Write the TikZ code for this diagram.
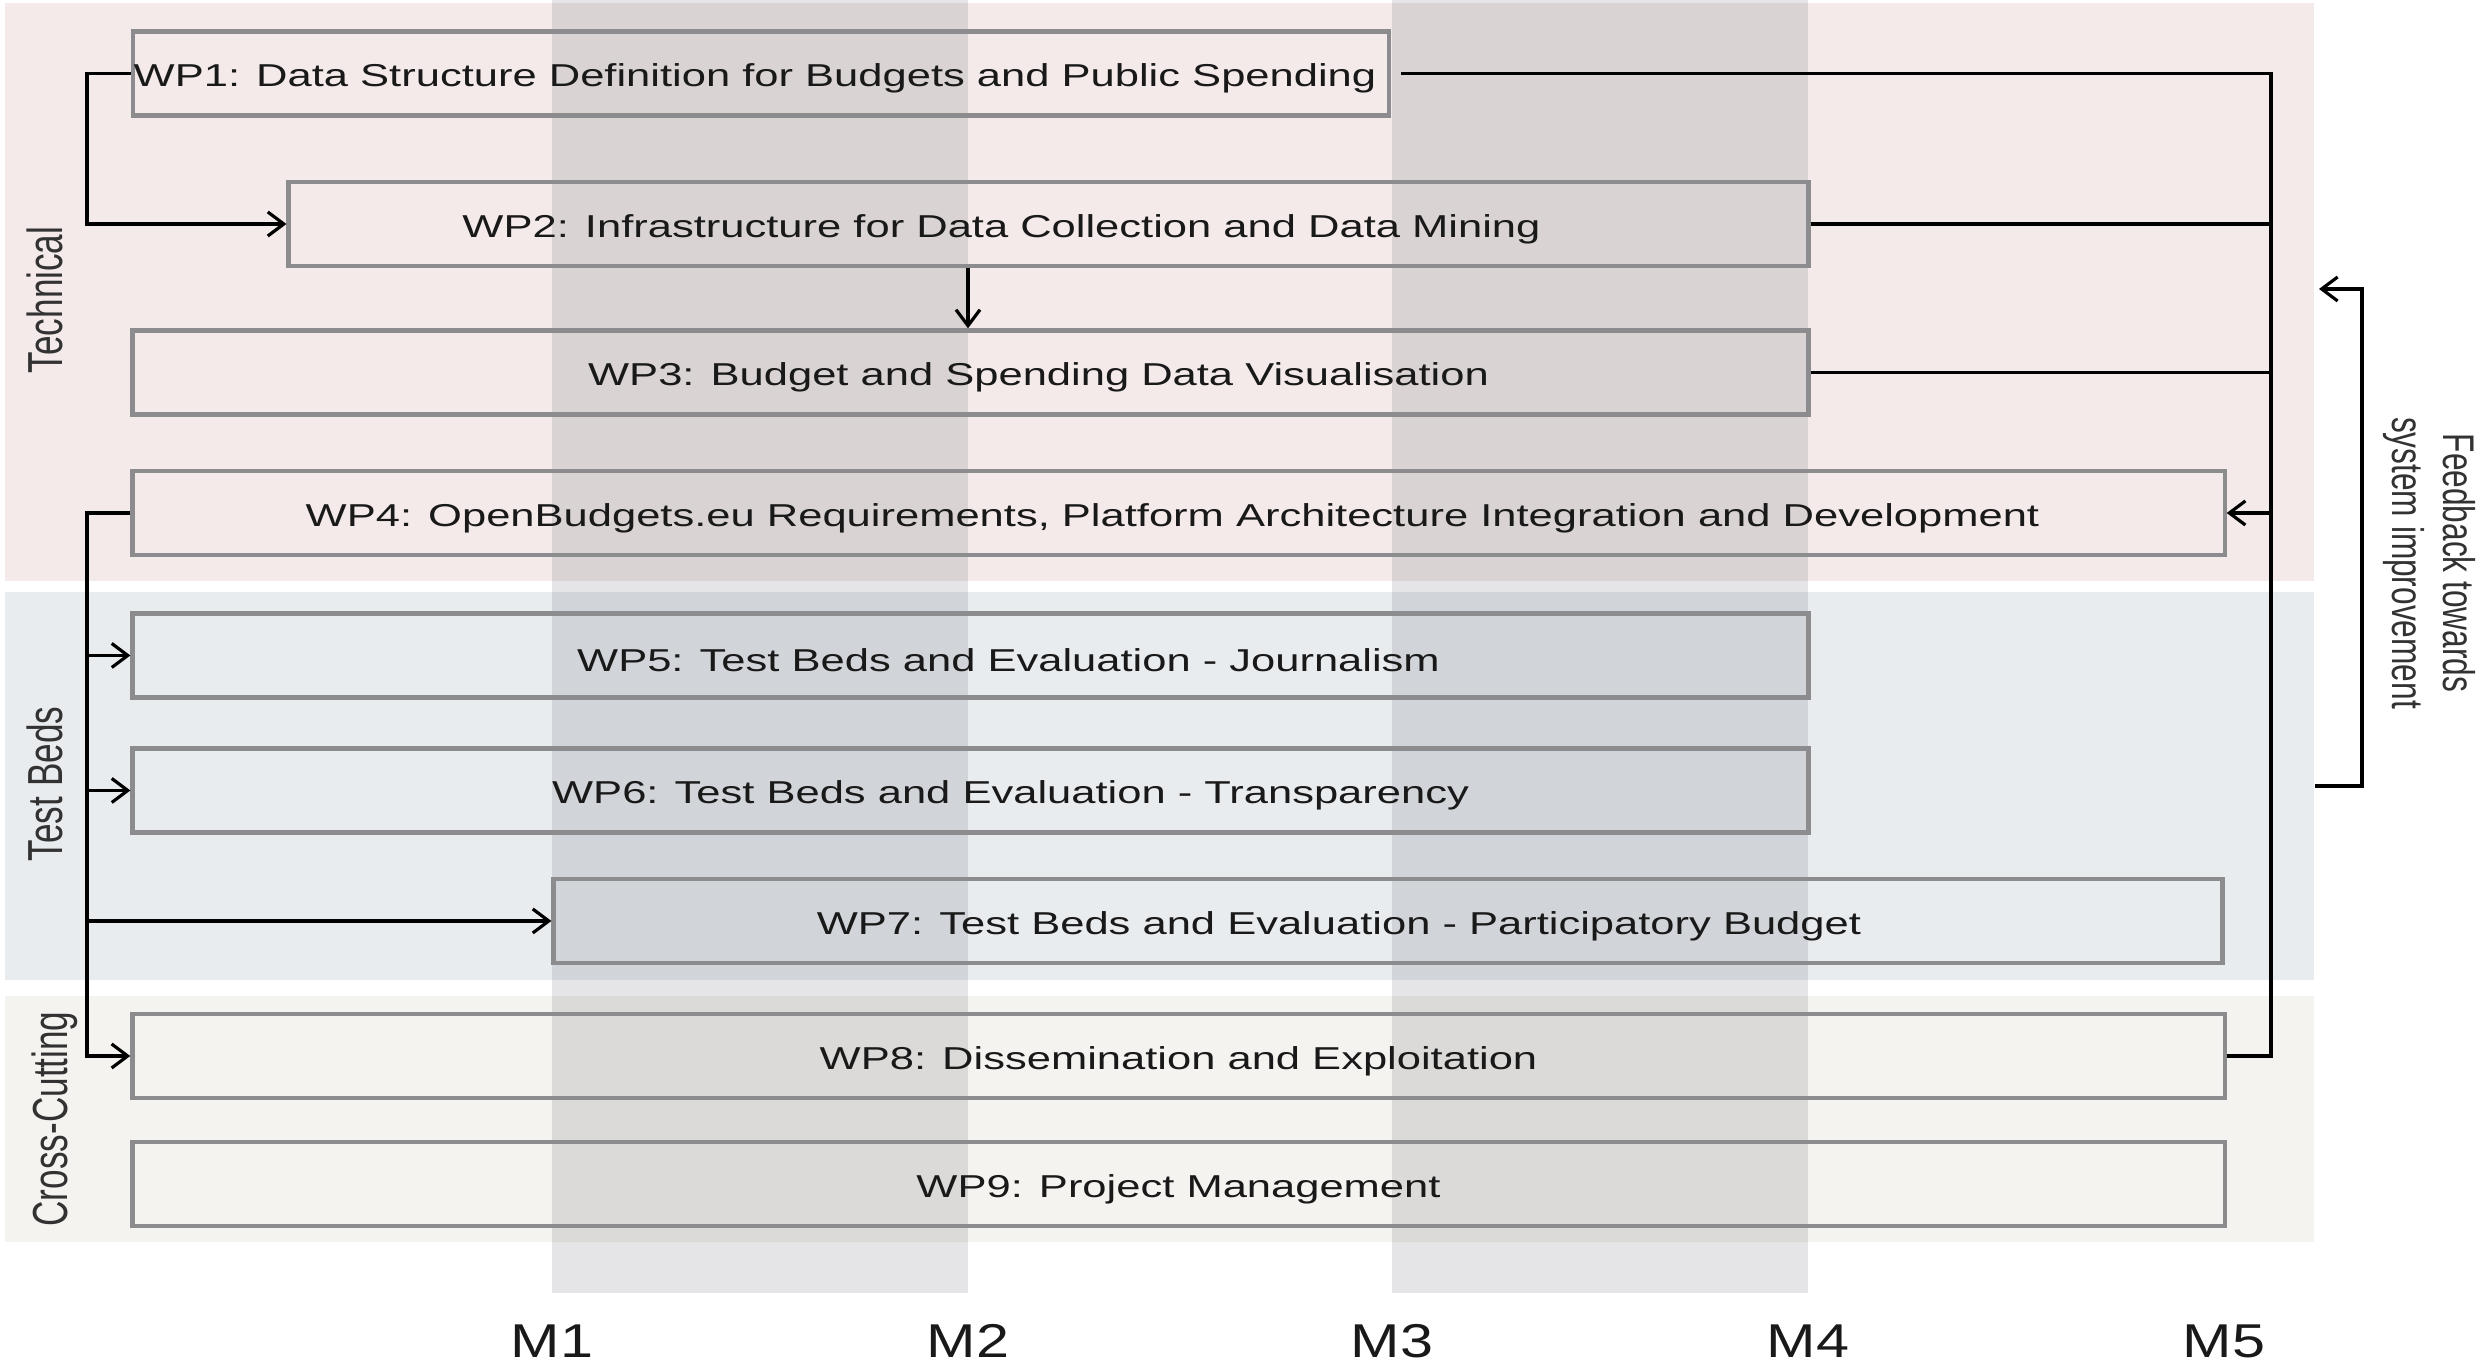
\documentclass[tikz,border=0pt]{standalone}
\usepackage{fontspec}
\setmainfont{Liberation Sans}
\usepackage{graphicx}
\usetikzlibrary{arrows.meta}

\definecolor{techpink}{RGB}{243,234,233}
\definecolor{testblue}{RGB}{233,236,239}
\definecolor{crossbeige}{RGB}{244,243,239}
\definecolor{colshade}{RGB}{40,45,60}
\definecolor{boxgray}{RGB}{140,140,142}
\definecolor{labelgray}{RGB}{50,50,50}

\tikzset{>={Straight Barb[length=1.6mm,width=2.4mm]}}
\tikzset{
  wpbox/.style={draw=boxgray, line width=1.2pt, minimum height=0.84cm, inner sep=0pt},
  wptext/.style={font=\fontsize{9}{11}\selectfont, text=black!90, inner sep=0pt, yshift=-0.5mm},
  link/.style={line width=0.9pt},
  grouplabel/.style={rotate=90, text=labelgray, font=\fontsize{10}{12}\selectfont},
  feedlabel/.style={rotate=-90, text=labelgray, font=\fontsize{9}{10.2}\selectfont},
  mlabel/.style={font=\fontsize{13.5}{16}\selectfont, text=black!90}
}
\newcommand{\widen}[1]{\scalebox{1.375}[1]{#1}}
\newcommand{\tallen}[1]{\scalebox{1}[1.4]{#1}}

\begin{document}
\begin{tikzpicture}[x=0.01cm, y=-0.01cm]
\useasboundingbox (0,0) rectangle (2480,1368);
% bands
\fill[techpink] (5,3) rectangle (2314,581);
\fill[testblue] (5,592) rectangle (2314,980);
\fill[crossbeige] (5,996) rectangle (2314,1242);
% month columns
\fill[colshade, fill opacity=0.12] (552,0) rectangle (968,1293);
\fill[colshade, fill opacity=0.12] (1392,0) rectangle (1808,1293);

% work packages
\node[wpbox, minimum width=12.56cm] (wp1) at (761,73.5) {};
\node[wpbox, minimum width=15.19cm] (wp2) at (1048.5,224) {};
\node[wpbox, minimum width=16.75cm] (wp3) at (970.5,372.5) {};
\node[wpbox, minimum width=20.91cm] (wp4) at (1178.5,513) {};
\node[wpbox, minimum width=16.75cm] (wp5) at (970.5,655.5) {};
\node[wpbox, minimum width=16.75cm] (wp6) at (970.5,790.5) {};
\node[wpbox, minimum width=16.68cm] (wp7) at (1388,921) {};
\node[wpbox, minimum width=20.91cm] (wp8) at (1178.5,1056) {};
\node[wpbox, minimum width=20.91cm] (wp9) at (1178.5,1184) {};

\node[wptext] (wp1t) at ([xshift=-0.06cm]wp1) {\widen{WP1: Data Structure Definition for Budgets and Public Spending}};
\node[wptext] (wp2t) at ([xshift=-0.47cm]wp2) {\widen{WP2: Infrastructure for Data Collection and Data Mining}};
\node[wptext] (wp3t) at ([xshift=0.68cm]wp3) {\widen{WP3: Budget and Spending Data Visualisation}};
\node[wptext] (wp4t) at ([xshift=-0.06cm]wp4) {\widen{WP4: OpenBudgets.eu Requirements, Platform Architecture Integration and Development}};
\node[wptext] (wp5t) at ([xshift=0.38cm]wp5) {\widen{WP5: Test Beds and Evaluation - Journalism}};
\node[wptext] (wp6t) at ([xshift=0.40cm]wp6) {\widen{WP6: Test Beds and Evaluation - Transparency}};
\node[wptext] (wp7t) at ([xshift=-0.49cm]wp7) {\widen{WP7: Test Beds and Evaluation - Participatory Budget}};
\node[wptext] (wp8t) at (wp8) {\widen{WP8: Dissemination and Exploitation}};
\node[wptext] (wp9t) at (wp9) {\widen{WP9: Project Management}};

% groups and months
\node[grouplabel] (tech) at (45,300) {\tallen{Technical}};
\node[grouplabel] (beds) at (45,784) {\tallen{Test Beds}};
\node[grouplabel] (cross) at (55,1119) {\tallen{Cross-Cutting}};
\node[mlabel] (m1) at (552,1341) {\scalebox{1.25}[1]{M1}};
\node[mlabel] (m2) at (968,1341) {\scalebox{1.25}[1]{M2}};
\node[mlabel] (m3) at (1392,1341) {\scalebox{1.25}[1]{M3}};
\node[mlabel] (m4) at (1808,1341) {\scalebox{1.25}[1]{M4}};
\node[mlabel] (m5) at (2224,1341) {\scalebox{1.25}[1]{M5}};
\node[feedlabel] (feed) at (2428,563) {\tallen{\begin{tabular}{@{}c@{}}Feedback towards\\system improvement\end{tabular}}};

% links
\coordinate (lbus) at (87,0);
\coordinate (rbus) at (2271,0);
\draw[link,->] (wp1.west) -- (wp1.west -| lbus) |- (wp2.west);
\draw[link,->] (wp2.south -| m2) -- (wp3.north -| m2);
\draw[link,->] (wp4.west) -- (wp4.west -| lbus) |- (wp8.west);
\draw[link,->] (wp5.west -| lbus) -- (wp5.west);
\draw[link,->] (wp6.west -| lbus) -- (wp6.west);
\draw[link,->] (wp7.west -| lbus) -- (wp7.west);
\draw[link] ([xshift=1mm]wp1.east) -- (wp1.east -| rbus) |- (wp8.east);
\draw[link] (wp2.east) -- (wp2.east -| rbus);
\draw[link] (wp3.east) -- (wp3.east -| rbus);
\draw[link,->] (wp4.east -| rbus) -- (wp4.east);
% feedback bracket
\coordinate (fbot) at (2315,786);
\coordinate (ftop) at (2319,289);
\draw[link,->] (fbot) -| (2362,289) -- (ftop);
\end{tikzpicture}
\end{document}
